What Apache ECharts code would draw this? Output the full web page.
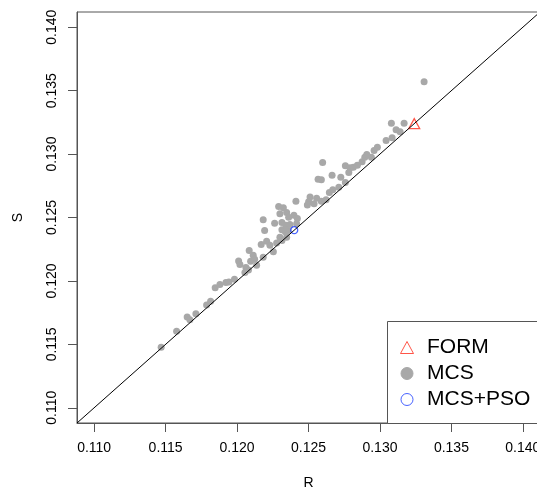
<!DOCTYPE html>
<html>
<head>
<meta charset="utf-8">
<script src="https://cdn.jsdelivr.net/npm/echarts@6/dist/echarts.min.js"></script>
<style>
html, body { margin: 0; padding: 0; background: #fff; }
#chart { width: 537px; height: 492px; }
</style>
</head>
<body>
<div id="chart"></div>
<script>
// MCS samples (R, S)
var mcsR = [0.11469,0.11577,0.11651,0.11670,0.11712,0.11787,0.11815,0.11847,0.11880,0.11922,
            0.11943,0.11982,0.12011,0.12020,0.12062,0.12080,0.12055,0.12085,0.12113,0.12095,
            0.12123,0.12183,0.12137,0.12254,0.12169,0.12207,0.12230,0.12277,0.12314,0.12300,
            0.12347,0.12193,0.12314,0.12338,0.12356,0.12183,0.12263,0.12314,0.12342,0.12370,
            0.12417,0.12300,0.12347,0.12361,0.12398,0.12422,0.12291,0.12324,0.12412,0.12511,
            0.12557,0.12501,0.12492,0.12539,0.12590,0.12623,0.12646,0.12670,0.12712,0.12758,
            0.12567,0.12590,0.12665,0.12726,0.12782,0.12758,0.12791,0.12814,0.12842,0.12875,
            0.12599,0.12894,0.12940,0.12908,0.12959,0.12982,0.13043,0.13085,0.13113,0.13141,
            0.13080,0.13169,0.13309];
var mcsS = [0.11478,0.11604,0.11716,0.11694,0.11741,0.11810,0.11840,0.11946,0.11972,0.11988,
            0.11992,0.12014,0.12157,0.12130,0.12106,0.12086,0.12067,0.12240,0.12203,0.12156,
            0.12171,0.12187,0.12124,0.12230,0.12287,0.12313,0.12282,0.12298,0.12319,0.12345,
            0.12345,0.12398,0.12403,0.12387,0.12398,0.12482,0.12455,0.12461,0.12439,0.12445,
            0.12450,0.12529,0.12539,0.12502,0.12518,0.12492,0.12587,0.12576,0.12629,0.12662,
            0.12652,0.12624,0.12599,0.12608,0.12629,0.12640,0.12697,0.12718,0.12739,0.12776,
            0.12802,0.12797,0.12833,0.12818,0.12855,0.12908,0.12892,0.12897,0.12912,0.12939,
            0.12934,0.12975,0.12975,0.12997,0.13028,0.13054,0.13107,0.13128,0.13191,0.13176,
            0.13243,0.13243,0.13570];
// FORM and MCS+PSO results
var formR = [0.1324], formS = [0.1324];
var psoR = [0.1240], psoS = [0.1240];
// axis
var tickValues = [0.110, 0.115, 0.120, 0.125, 0.130, 0.135, 0.140];
var axisMin = 0.1088, axisMax = 0.1412;

function pairs(xs, ys) {
    return xs.map(function (x, i) { return [x, ys[i]]; });
}

var font = '"Liberation Sans", Arial, Helvetica, sans-serif';
var axisColor = '#555';

var chart = echarts.init(document.getElementById('chart'));

function axis(name, rotate) {
    return {
        type: 'value',
        min: axisMin,
        max: axisMax,
        name: name,
        nameLocation: 'middle',
        nameGap: rotate ? 52 : 53,
        nameRotate: rotate ? 90 : 0,
        nameTextStyle: { fontSize: 14, color: '#000', fontFamily: font },
        axisLine: { show: true, onZero: false, lineStyle: { color: axisColor, width: 1 } },
        axisTick: { show: true, inside: false, length: 9, customValues: tickValues,
                    lineStyle: { color: axisColor, width: 1 } },
        axisLabel: { customValues: tickValues, rotate: rotate ? 90 : 0, margin: 18,
                     fontSize: 14, color: '#000', fontFamily: font,
                     formatter: function (v) { return v.toFixed(3); } },
        splitLine: { show: false }
    };
}

var option = {
    animation: false,
    backgroundColor: '#fff',
    grid: { left: 77, top: 12, width: 463, height: 411, show: true,
            outerBoundsMode: 'none', containLabel: false,
            borderColor: axisColor, borderWidth: 1, backgroundColor: 'transparent' },
    xAxis: axis('R', false),
    yAxis: axis('S', true),
    legend: {
        orient: 'vertical', left: 400, top: 337, z: 20,
        itemWidth: 30, itemHeight: 12, itemGap: 5, padding: 0,
        textStyle: { fontSize: 21, lineHeight: 20, color: '#000', fontFamily: font },
        itemStyle: { borderWidth: 1 },
        data: [
            { name: 'FORM', icon: 'path://M0,12 L6.5,0 L13,12 Z' },
            'MCS',
            'MCS+PSO'
        ]
    },
    graphic: [{
        type: 'rect', left: 387, top: 321, z: 10,
        shape: { width: 200, height: 102 },
        style: { fill: '#fff', stroke: axisColor, lineWidth: 1 }
    }],
    series: [
        {
            type: 'line', silent: true, symbol: 'none',
            data: [[axisMin, axisMin], [axisMax, axisMax]],
            lineStyle: { color: '#000', width: 1 }
        },
        {
            name: 'MCS', type: 'scatter', symbol: 'circle', symbolSize: 7,
            data: pairs(mcsR, mcsS),
            itemStyle: { color: '#a8a8a8', borderColor: '#a8a8a8', borderWidth: 0, opacity: 1 }
        },
        {
            name: 'FORM', type: 'scatter', symbol: 'triangle', symbolSize: [11, 10],
            data: pairs(formR, formS),
            itemStyle: { color: 'rgba(0,0,0,0)', borderColor: '#ff2a1a', borderWidth: 1.2 }
        },
        {
            name: 'MCS+PSO', type: 'scatter', symbol: 'circle', symbolSize: 7,
            data: pairs(psoR, psoS),
            itemStyle: { color: 'rgba(0,0,0,0)', borderColor: '#1a3cff', borderWidth: 1.3 }
        }
    ]
};

chart.setOption(option);
</script>
</body>
</html>
